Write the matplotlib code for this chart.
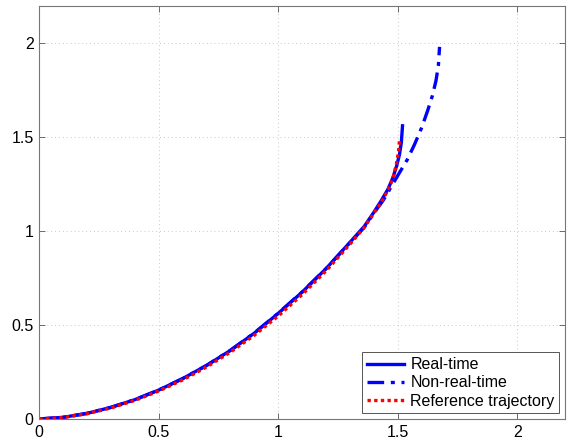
import matplotlib
matplotlib.use("Agg")
import matplotlib.pyplot as plt

plt.rcParams.update({
    "font.family": ["Liberation Sans", "DejaVu Sans"],
    "font.size": 11.5,
    "xtick.direction": "in",
    "ytick.direction": "in",
    "xtick.top": True,
    "ytick.right": True,
})

BLUE = "#0000FF"
RED = "#FF0000"

# ── Data ─────────────────────────────────────────────────────────────────────
real_x = [0, 0.1, 0.2, 0.3, 0.4, 0.5, 0.6, 0.7, 0.8, 0.9, 1.0, 1.1, 1.2,
          1.3, 1.36, 1.40, 1.43, 1.46, 1.48, 1.495, 1.507, 1.515, 1.52]
real_y = [0, 0.009, 0.03, 0.062, 0.103, 0.154, 0.215, 0.285, 0.365, 0.457,
          0.562, 0.675, 0.8, 0.94, 1.025, 1.10, 1.16, 1.225, 1.285, 1.345,
          1.405, 1.47, 1.56]

nonrt_x = [0, 0.1, 0.2, 0.3, 0.4, 0.5, 0.6, 0.7, 0.8, 0.9, 1.0, 1.1, 1.2,
           1.3, 1.36, 1.40, 1.44, 1.47, 1.50, 1.54, 1.57, 1.60, 1.625,
           1.645, 1.66, 1.67, 1.675]
nonrt_y = [0, 0.009, 0.03, 0.062, 0.103, 0.154, 0.215, 0.285, 0.366, 0.458,
           0.563, 0.676, 0.8, 0.938, 1.02, 1.095, 1.165, 1.23, 1.295, 1.38,
           1.46, 1.55, 1.64, 1.72, 1.80, 1.88, 1.98]

ref_x = [0, 0.1, 0.2, 0.3, 0.4, 0.5, 0.6, 0.7, 0.8, 0.9, 1.0, 1.1, 1.2,
         1.3, 1.36, 1.40, 1.43, 1.46, 1.48, 1.495, 1.503, 1.507]
ref_y = [0, 0.008, 0.028, 0.059, 0.099, 0.149, 0.208, 0.277, 0.356, 0.446,
         0.548, 0.662, 0.788, 0.93, 1.02, 1.095, 1.15, 1.22, 1.28, 1.36,
         1.42, 1.48]

labels = ["Real-time", "Non-real-time", "Reference trajectory"]
ticks = [0, 0.5, 1, 1.5, 2]

fig = plt.figure(figsize=(5.67, 4.44), dpi=100)
ax = fig.add_axes([0.0693, 0.0563, 0.9272, 0.9313])

ax.plot(real_x, real_y, color=BLUE, lw=2.4, ls="-", label=labels[0])
ax.plot(nonrt_x, nonrt_y, color=BLUE, lw=2.4, ls=(0, (5, 2, 1.2, 2)),
        label=labels[1])
ax.plot(ref_x, ref_y, color=RED, lw=2.4, ls=(0, (1, 1)), label=labels[2])

ax.set_xlim(0, 2.2)
ax.set_ylim(0, 2.2)
ax.set_xticks(ticks)
ax.set_yticks(ticks)
ax.set_xticklabels(["0", "0.5", "1", "1.5", "2"])
ax.set_yticklabels(["0", "0.5", "1", "1.5", "2"])
ax.tick_params(length=4, width=0.6, color="#555555", pad=4)
ax.grid(True, ls=(0, (1, 3)), color="#C8C8C8", lw=0.7)
for s in ax.spines.values():
    s.set_color("#777777")
    s.set_linewidth(0.8)

leg = ax.legend(loc="lower right", handlelength=2.3, labelspacing=0.2,
                borderaxespad=0.35, fancybox=False, framealpha=1,
                edgecolor="#555555", handletextpad=0.4, borderpad=0.3)
leg.get_frame().set_linewidth(0.7)

fig.savefig("out.png", dpi=100)
